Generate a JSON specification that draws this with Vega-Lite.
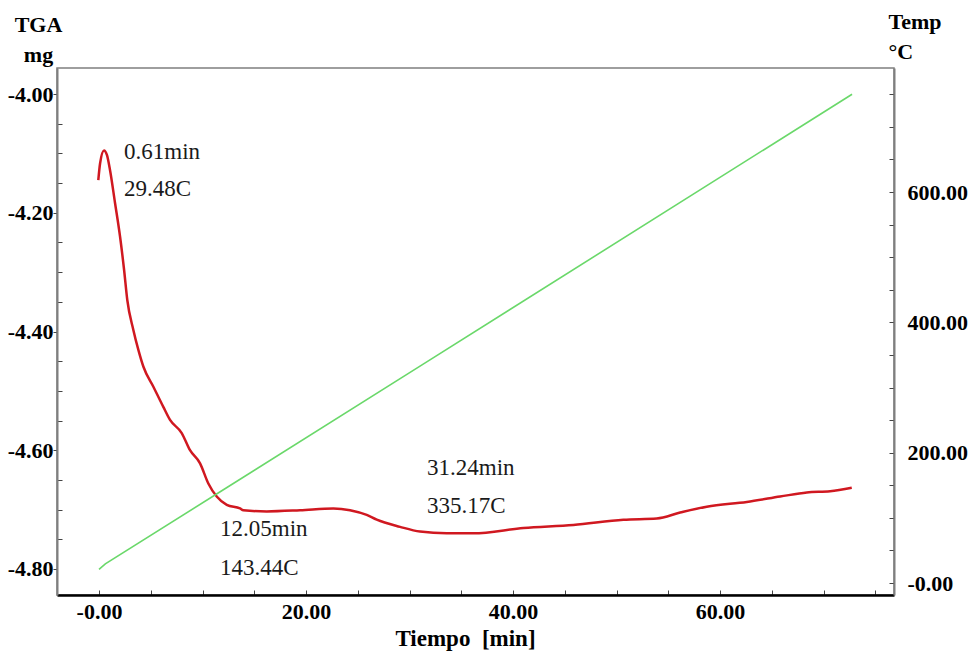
{
  "$schema": "https://vega.github.io/schema/vega-lite/v6.json",
  "width": 837,
  "height": 527,
  "autosize": {"type": "none"},
  "padding": {"left": 57, "top": 68, "right": 76, "bottom": 60},
  "background": "white",
  "config": {
    "view": {"stroke": "#7f7f7f", "strokeWidth": 1.5},
    "axis": {"grid": false, "labelOverlap": false, "labelFlush": false}
  },
  "datasets": {
    "tga": [
      {"t": -0.07, "m": -4.145}, {"t": 0.1, "m": -4.117}, {"t": 0.48, "m": -4.095},
      {"t": 0.77, "m": -4.103}, {"t": 1.06, "m": -4.128}, {"t": 1.55, "m": -4.184},
      {"t": 2.03, "m": -4.24}, {"t": 2.42, "m": -4.296}, {"t": 2.73, "m": -4.347},
      {"t": 3.31, "m": -4.397}, {"t": 3.8, "m": -4.431}, {"t": 4.28, "m": -4.459},
      {"t": 5.25, "m": -4.493}, {"t": 6.21, "m": -4.527}, {"t": 6.86, "m": -4.549},
      {"t": 7.99, "m": -4.571}, {"t": 8.79, "m": -4.6}, {"t": 9.76, "m": -4.622},
      {"t": 10.56, "m": -4.656}, {"t": 11.37, "m": -4.678}, {"t": 12.34, "m": -4.692},
      {"t": 13.62, "m": -4.698}, {"t": 13.94, "m": -4.701}, {"t": 16.2, "m": -4.703},
      {"t": 19.42, "m": -4.701}, {"t": 22.64, "m": -4.698}, {"t": 24.25, "m": -4.701},
      {"t": 25.86, "m": -4.709}, {"t": 26.83, "m": -4.717}, {"t": 29.08, "m": -4.729},
      {"t": 31.01, "m": -4.737}, {"t": 33.59, "m": -4.74}, {"t": 36.16, "m": -4.74},
      {"t": 41.0, "m": -4.731}, {"t": 45.83, "m": -4.726}, {"t": 50.66, "m": -4.717},
      {"t": 53.88, "m": -4.715}, {"t": 56.14, "m": -4.705}, {"t": 58.71, "m": -4.695},
      {"t": 62.58, "m": -4.687}, {"t": 65.8, "m": -4.678}, {"t": 68.38, "m": -4.671},
      {"t": 70.63, "m": -4.669}, {"t": 72.72, "m": -4.663}
    ],
    "temp": [
      {"t": 0.0, "T": 21.0}, {"t": 0.61, "T": 29.48}, {"t": 12.05, "T": 143.44},
      {"t": 31.24, "T": 335.17}, {"t": 72.75, "T": 750.0}
    ],
    "notes": [
      {"t": 2.42, "m": -4.098, "label": "0.61min"},
      {"t": 2.42, "m": -4.160, "label": "29.48C"},
      {"t": 11.69, "m": -4.733, "label": "12.05min"},
      {"t": 11.69, "m": -4.798, "label": "143.44C"},
      {"t": 31.69, "m": -4.630, "label": "31.24min"},
      {"t": 31.69, "m": -4.694, "label": "335.17C"}
    ]
  },
  "layer": [
    {
      "data": {"name": "tga"},
      "mark": {"type": "line", "color": "#d01820", "strokeWidth": 2.5, "interpolate": "monotone"},
      "encoding": {
        "x": {
          "field": "t", "type": "quantitative",
          "scale": {"domain": [-4.06, 76.8], "nice": false, "zero": false},
          "axis": {
            "values": [0, 5, 10, 15, 20, 25, 30, 35, 40, 45, 50, 55, 60, 65, 70, 75],
            "labelExpr": "datum.value == 0 ? '-0.00' : (datum.value % 20 == 0 ? format(datum.value, '.2f') : '')",
            "tickSize": -5, "tickColor": "#444", "tickWidth": 1,
            "domainColor": "#000", "domainWidth": 2.5,
            "labelFont": "Liberation Serif", "labelFontWeight": "bold", "labelFontSize": 22, "labelColor": "#000",
            "labelPadding": 11, "labelBaseline": "top",
            "title": "Tiempo\u00a0\u00a0[min]",
            "titleFont": "Liberation Serif", "titleFontWeight": "bold", "titleFontSize": 23, "titleColor": "#000",
            "titleX": 408, "titleY": 50, "titleAlign": "center", "titleBaseline": "alphabetic"
          }
        },
        "y": {
          "field": "m", "type": "quantitative",
          "scale": {"domain": [-4.8438, -3.9562], "nice": false, "zero": false},
          "axis": {
            "orient": "left",
            "values": [-4.8, -4.75, -4.7, -4.65, -4.6, -4.55, -4.5, -4.45, -4.4, -4.35, -4.3, -4.25, -4.2, -4.15, -4.1, -4.05, -4.0],
            "labelExpr": "abs(datum.value * 5 - round(datum.value * 5)) < 0.001 ? '-' + format(abs(datum.value), '.2f') : ''",
            "tickSize": {"condition": {"test": "abs(datum.value * 5 - round(datum.value * 5)) < 0.001", "value": 4}, "value": -5},
            "tickColor": "#444", "tickWidth": 1,
            "domainColor": "#7f7f7f", "domainWidth": 2,
            "labelFont": "Liberation Serif", "labelFontWeight": "bold", "labelFontSize": 22, "labelColor": "#000",
            "labelPadding": 0,
            "title": ["TGA", "mg"],
            "titleFont": "Liberation Serif", "titleFontWeight": "bold", "titleFontSize": 22, "titleColor": "#000",
            "titleAngle": 0, "titleAlign": "center", "titleBaseline": "alphabetic",
            "titleX": -19, "titleY": -37, "titleLineHeight": 30
          }
        }
      }
    },
    {
      "data": {"name": "temp"},
      "mark": {"type": "line", "color": "#6ad86a", "strokeWidth": 1.6},
      "encoding": {
        "x": {"field": "t", "type": "quantitative"},
        "y": {
          "field": "T", "type": "quantitative",
          "scale": {"domain": [-18.4, 790.3], "nice": false, "zero": false},
          "axis": {
            "orient": "right",
            "values": [0, 50, 100, 150, 200, 250, 300, 350, 400, 450, 500, 550, 600, 650, 700, 750],
            "labelExpr": "datum.value == 0 ? '-0.00' : (datum.value % 200 == 0 ? format(datum.value, '.2f') : '')",
            "tickSize": -5, "tickColor": "#444", "tickWidth": 1,
            "domainColor": "#7f7f7f", "domainWidth": 2,
            "labelFont": "Liberation Serif", "labelFontWeight": "bold", "labelFontSize": 22, "labelColor": "#000",
            "labelPadding": 18,
            "title": ["Temp", "°C"],
            "titleFont": "Liberation Serif", "titleFontWeight": "bold", "titleFontSize": 22, "titleColor": "#000",
            "titleAngle": 0, "titleAlign": "left", "titleBaseline": "alphabetic",
            "titleX": -6, "titleY": -40, "titleLineHeight": 30
          }
        }
      }
    },
    {
      "data": {"name": "notes"},
      "mark": {"type": "text", "font": "Liberation Serif", "fontSize": 23, "align": "left", "baseline": "middle", "color": "#1a1a1a"},
      "encoding": {
        "x": {"field": "t", "type": "quantitative"},
        "y": {
          "field": "m", "type": "quantitative",
          "scale": {"domain": [-4.8438, -3.9562], "nice": false, "zero": false},
          "axis": null
        },
        "text": {"field": "label"}
      }
    }
  ],
  "resolve": {"scale": {"y": "independent"}, "axis": {"y": "independent"}}
}
